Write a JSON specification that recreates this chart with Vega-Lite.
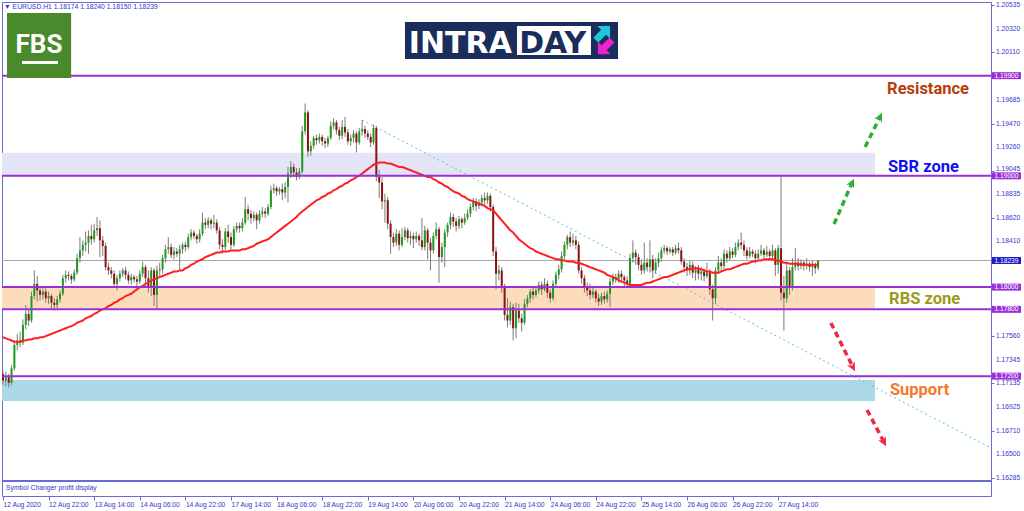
{
"$schema": "https://vega.github.io/schema/vega-lite/v6.json",
"width": 989, "height": 494,
"autosize": {"type": "none"},
"padding": {"left": 2, "top": 2, "right": 33, "bottom": 15},
"background": "white",
"config": {"view": {"stroke": "#6a6ad8", "strokeWidth": 1}},
"resolve": {"scale": {"color": "independent"}},
"datasets": {
"zones": [{"z":"SBR","a":-0.351,"b":305.96,"lo":1.19,"hi":1.19207},{"z":"RBS","a":-0.351,"b":305.96,"lo":1.178,"hi":1.18},{"z":"SUP","a":-0.351,"b":305.96,"lo":1.16977,"hi":1.17165}],
"boxes": [{"p":1.199,"lab":"1.19900","k":"lvl"},{"p":1.19,"lab":"1.19000","k":"lvl"},{"p":1.18239,"lab":"1.18239","k":"cur"},{"p":1.18,"lab":"1.18000","k":"lvl"},{"p":1.178,"lab":"1.17800","k":"lvl"},{"p":1.172,"lab":"1.17200","k":"lvl"}],
"ylabs": [{"v":1.20535},{"v":1.2032},{"v":1.2011},{"v":1.19685},{"v":1.1947},{"v":1.1926},{"v":1.18835},{"v":1.1862},{"v":1.1841},{"v":1.1756},{"v":1.17345},{"v":1.17135},{"v":1.16925},{"v":1.1671},{"v":1.165},{"v":1.16285}],
"k": [
{"i":0,"o":1.1722,"h":1.1725,"l":1.1712,"c":1.1716,"m":1.1755},
{"i":1,"o":1.1716,"h":1.1724,"l":1.1711,"c":1.1719,"m":1.1754},
{"i":2,"o":1.1719,"h":1.1722,"l":1.1710,"c":1.1714,"m":1.1753},
{"i":3,"o":1.1714,"h":1.1730,"l":1.1712,"c":1.1727,"m":1.1752},
{"i":4,"o":1.1727,"h":1.1752,"l":1.1725,"c":1.1748,"m":1.1751},
{"i":5,"o":1.1748,"h":1.1758,"l":1.1743,"c":1.1752,"m":1.1751},
{"i":6,"o":1.1752,"h":1.1760,"l":1.1746,"c":1.1750,"m":1.1751},
{"i":7,"o":1.1750,"h":1.1771,"l":1.1748,"c":1.1766,"m":1.1752},
{"i":8,"o":1.1766,"h":1.1784,"l":1.1762,"c":1.1776,"m":1.1752},
{"i":9,"o":1.1776,"h":1.1780,"l":1.1765,"c":1.1770,"m":1.1753},
{"i":10,"o":1.1770,"h":1.1796,"l":1.1768,"c":1.1792,"m":1.1753},
{"i":11,"o":1.1792,"h":1.1815,"l":1.1789,"c":1.1803,"m":1.1754},
{"i":12,"o":1.1803,"h":1.1810,"l":1.1787,"c":1.1797,"m":1.1754},
{"i":13,"o":1.1797,"h":1.1801,"l":1.1788,"c":1.1793,"m":1.1755},
{"i":14,"o":1.1793,"h":1.1799,"l":1.1789,"c":1.1796,"m":1.1755},
{"i":15,"o":1.1796,"h":1.1799,"l":1.1786,"c":1.1790,"m":1.1756},
{"i":16,"o":1.1790,"h":1.1796,"l":1.1785,"c":1.1792,"m":1.1757},
{"i":17,"o":1.1792,"h":1.1794,"l":1.1781,"c":1.1786,"m":1.1758},
{"i":18,"o":1.1786,"h":1.1790,"l":1.1779,"c":1.1784,"m":1.1759},
{"i":19,"o":1.1784,"h":1.1792,"l":1.1781,"c":1.1789,"m":1.1760},
{"i":20,"o":1.1789,"h":1.1797,"l":1.1786,"c":1.1794,"m":1.1761},
{"i":21,"o":1.1794,"h":1.1811,"l":1.1792,"c":1.1808,"m":1.1762},
{"i":22,"o":1.1808,"h":1.1815,"l":1.1804,"c":1.1811,"m":1.1763},
{"i":23,"o":1.1811,"h":1.1814,"l":1.1806,"c":1.1810,"m":1.1764},
{"i":24,"o":1.1810,"h":1.1812,"l":1.1803,"c":1.1807,"m":1.1765},
{"i":25,"o":1.1807,"h":1.1816,"l":1.1805,"c":1.1813,"m":1.1766},
{"i":26,"o":1.1813,"h":1.1830,"l":1.1811,"c":1.1826,"m":1.1768},
{"i":27,"o":1.1826,"h":1.1845,"l":1.1822,"c":1.1833,"m":1.1769},
{"i":28,"o":1.1833,"h":1.1842,"l":1.1828,"c":1.1838,"m":1.1770},
{"i":29,"o":1.1838,"h":1.1850,"l":1.1832,"c":1.1840,"m":1.1772},
{"i":30,"o":1.1840,"h":1.1851,"l":1.1830,"c":1.1846,"m":1.1773},
{"i":31,"o":1.1846,"h":1.1856,"l":1.1838,"c":1.1843,"m":1.1774},
{"i":32,"o":1.1843,"h":1.1857,"l":1.1840,"c":1.1851,"m":1.1776},
{"i":33,"o":1.1851,"h":1.1863,"l":1.1846,"c":1.1853,"m":1.1777},
{"i":34,"o":1.1853,"h":1.1860,"l":1.1827,"c":1.1842,"m":1.1779},
{"i":35,"o":1.1842,"h":1.1846,"l":1.1828,"c":1.1837,"m":1.1780},
{"i":36,"o":1.1837,"h":1.1840,"l":1.1815,"c":1.1818,"m":1.1781},
{"i":37,"o":1.1818,"h":1.1822,"l":1.1811,"c":1.1815,"m":1.1783},
{"i":38,"o":1.1815,"h":1.1818,"l":1.1808,"c":1.1812,"m":1.1784},
{"i":39,"o":1.1812,"h":1.1815,"l":1.1800,"c":1.1803,"m":1.1786},
{"i":40,"o":1.1803,"h":1.1811,"l":1.1797,"c":1.1808,"m":1.1787},
{"i":41,"o":1.1808,"h":1.1815,"l":1.1805,"c":1.1812,"m":1.1789},
{"i":42,"o":1.1812,"h":1.1817,"l":1.1809,"c":1.1815,"m":1.1790},
{"i":43,"o":1.1815,"h":1.1818,"l":1.1807,"c":1.1811,"m":1.1792},
{"i":44,"o":1.1811,"h":1.1814,"l":1.1803,"c":1.1806,"m":1.1793},
{"i":45,"o":1.1806,"h":1.1812,"l":1.1802,"c":1.1809,"m":1.1794},
{"i":46,"o":1.1809,"h":1.1811,"l":1.1804,"c":1.1807,"m":1.1796},
{"i":47,"o":1.1807,"h":1.1810,"l":1.1801,"c":1.1805,"m":1.1798},
{"i":48,"o":1.1805,"h":1.1815,"l":1.1803,"c":1.1812,"m":1.1800},
{"i":49,"o":1.1812,"h":1.1823,"l":1.1809,"c":1.1818,"m":1.1801},
{"i":50,"o":1.1818,"h":1.1820,"l":1.1800,"c":1.1808,"m":1.1803},
{"i":51,"o":1.1808,"h":1.1815,"l":1.1795,"c":1.1800,"m":1.1804},
{"i":52,"o":1.1800,"h":1.1818,"l":1.1792,"c":1.1815,"m":1.1806},
{"i":53,"o":1.1815,"h":1.1817,"l":1.1783,"c":1.1793,"m":1.1807},
{"i":54,"o":1.1793,"h":1.1819,"l":1.1781,"c":1.1815,"m":1.1808},
{"i":55,"o":1.1815,"h":1.1822,"l":1.1809,"c":1.1816,"m":1.1809},
{"i":56,"o":1.1816,"h":1.1829,"l":1.1812,"c":1.1826,"m":1.1810},
{"i":57,"o":1.1826,"h":1.1838,"l":1.1822,"c":1.1834,"m":1.1811},
{"i":58,"o":1.1834,"h":1.1845,"l":1.1830,"c":1.1836,"m":1.1812},
{"i":59,"o":1.1836,"h":1.1839,"l":1.1826,"c":1.1829,"m":1.1813},
{"i":60,"o":1.1829,"h":1.1836,"l":1.1825,"c":1.1832,"m":1.1814},
{"i":61,"o":1.1832,"h":1.1835,"l":1.1827,"c":1.1830,"m":1.1814},
{"i":62,"o":1.1830,"h":1.1838,"l":1.1815,"c":1.1834,"m":1.1815},
{"i":63,"o":1.1834,"h":1.1840,"l":1.1830,"c":1.1838,"m":1.1815},
{"i":64,"o":1.1838,"h":1.1841,"l":1.1832,"c":1.1836,"m":1.1817},
{"i":65,"o":1.1836,"h":1.1848,"l":1.1834,"c":1.1845,"m":1.1818},
{"i":66,"o":1.1845,"h":1.1852,"l":1.1842,"c":1.1849,"m":1.1820},
{"i":67,"o":1.1849,"h":1.1851,"l":1.1843,"c":1.1846,"m":1.1821},
{"i":68,"o":1.1846,"h":1.1848,"l":1.1839,"c":1.1843,"m":1.1823},
{"i":69,"o":1.1843,"h":1.1852,"l":1.1840,"c":1.1848,"m":1.1824},
{"i":70,"o":1.1848,"h":1.1867,"l":1.1846,"c":1.1858,"m":1.1825},
{"i":71,"o":1.1858,"h":1.1862,"l":1.1852,"c":1.1856,"m":1.1827},
{"i":72,"o":1.1856,"h":1.1863,"l":1.1853,"c":1.1860,"m":1.1828},
{"i":73,"o":1.1860,"h":1.1862,"l":1.1852,"c":1.1857,"m":1.1829},
{"i":74,"o":1.1857,"h":1.1865,"l":1.1853,"c":1.1858,"m":1.1830},
{"i":75,"o":1.1858,"h":1.1861,"l":1.1848,"c":1.1851,"m":1.1831},
{"i":76,"o":1.1851,"h":1.1854,"l":1.1834,"c":1.1838,"m":1.1831},
{"i":77,"o":1.1838,"h":1.1843,"l":1.1830,"c":1.1836,"m":1.1832},
{"i":78,"o":1.1836,"h":1.1853,"l":1.1833,"c":1.1850,"m":1.1832},
{"i":79,"o":1.1850,"h":1.1856,"l":1.1840,"c":1.1845,"m":1.1832},
{"i":80,"o":1.1845,"h":1.1849,"l":1.1834,"c":1.1838,"m":1.1833},
{"i":81,"o":1.1838,"h":1.1855,"l":1.1836,"c":1.1852,"m":1.1833},
{"i":82,"o":1.1852,"h":1.1858,"l":1.1849,"c":1.1855,"m":1.1833},
{"i":83,"o":1.1855,"h":1.1858,"l":1.1849,"c":1.1853,"m":1.1833},
{"i":84,"o":1.1853,"h":1.1862,"l":1.1850,"c":1.1858,"m":1.1834},
{"i":85,"o":1.1858,"h":1.1881,"l":1.1856,"c":1.1870,"m":1.1834},
{"i":86,"o":1.1870,"h":1.1874,"l":1.1860,"c":1.1866,"m":1.1835},
{"i":87,"o":1.1866,"h":1.1869,"l":1.1857,"c":1.1862,"m":1.1836},
{"i":88,"o":1.1862,"h":1.1868,"l":1.1859,"c":1.1865,"m":1.1837},
{"i":89,"o":1.1865,"h":1.1867,"l":1.1852,"c":1.1860,"m":1.1839},
{"i":90,"o":1.1860,"h":1.1869,"l":1.1857,"c":1.1866,"m":1.1840},
{"i":91,"o":1.1866,"h":1.1872,"l":1.1863,"c":1.1868,"m":1.1841},
{"i":92,"o":1.1868,"h":1.1871,"l":1.1862,"c":1.1866,"m":1.1842},
{"i":93,"o":1.1866,"h":1.1875,"l":1.1864,"c":1.1872,"m":1.1843},
{"i":94,"o":1.1872,"h":1.1891,"l":1.1870,"c":1.1887,"m":1.1845},
{"i":95,"o":1.1887,"h":1.1893,"l":1.1884,"c":1.1889,"m":1.1847},
{"i":96,"o":1.1889,"h":1.1891,"l":1.1882,"c":1.1886,"m":1.1849},
{"i":97,"o":1.1886,"h":1.1890,"l":1.1883,"c":1.1888,"m":1.1851},
{"i":98,"o":1.1888,"h":1.1893,"l":1.1878,"c":1.1885,"m":1.1853},
{"i":99,"o":1.1885,"h":1.1894,"l":1.1880,"c":1.1890,"m":1.1855},
{"i":100,"o":1.1890,"h":1.1908,"l":1.1876,"c":1.1902,"m":1.1857},
{"i":101,"o":1.1902,"h":1.1913,"l":1.1898,"c":1.1908,"m":1.1859},
{"i":102,"o":1.1908,"h":1.1911,"l":1.1899,"c":1.1903,"m":1.1861},
{"i":103,"o":1.1903,"h":1.1907,"l":1.1896,"c":1.1899,"m":1.1863},
{"i":104,"o":1.1899,"h":1.1907,"l":1.1897,"c":1.1904,"m":1.1866},
{"i":105,"o":1.1904,"h":1.1945,"l":1.1902,"c":1.1940,"m":1.1868},
{"i":106,"o":1.1940,"h":1.1965,"l":1.1937,"c":1.1957,"m":1.1870},
{"i":107,"o":1.1957,"h":1.1959,"l":1.1917,"c":1.1922,"m":1.1872},
{"i":108,"o":1.1922,"h":1.1931,"l":1.1918,"c":1.1927,"m":1.1874},
{"i":109,"o":1.1927,"h":1.1936,"l":1.1924,"c":1.1934,"m":1.1876},
{"i":110,"o":1.1934,"h":1.1937,"l":1.1928,"c":1.1932,"m":1.1878},
{"i":111,"o":1.1932,"h":1.1938,"l":1.1929,"c":1.1935,"m":1.1879},
{"i":112,"o":1.1935,"h":1.1937,"l":1.1927,"c":1.1931,"m":1.1881},
{"i":113,"o":1.1931,"h":1.1934,"l":1.1925,"c":1.1929,"m":1.1882},
{"i":114,"o":1.1929,"h":1.1936,"l":1.1926,"c":1.1934,"m":1.1884},
{"i":115,"o":1.1934,"h":1.1949,"l":1.1932,"c":1.1945,"m":1.1885},
{"i":116,"o":1.1945,"h":1.1952,"l":1.1942,"c":1.1948,"m":1.1887},
{"i":117,"o":1.1948,"h":1.1950,"l":1.1937,"c":1.1941,"m":1.1888},
{"i":118,"o":1.1941,"h":1.1944,"l":1.1932,"c":1.1936,"m":1.1890},
{"i":119,"o":1.1936,"h":1.1950,"l":1.1933,"c":1.1944,"m":1.1891},
{"i":120,"o":1.1944,"h":1.1953,"l":1.1935,"c":1.1939,"m":1.1893},
{"i":121,"o":1.1939,"h":1.1942,"l":1.1928,"c":1.1931,"m":1.1894},
{"i":122,"o":1.1931,"h":1.1937,"l":1.1927,"c":1.1934,"m":1.1896},
{"i":123,"o":1.1934,"h":1.1941,"l":1.1930,"c":1.1938,"m":1.1897},
{"i":124,"o":1.1938,"h":1.1940,"l":1.1921,"c":1.1930,"m":1.1899},
{"i":125,"o":1.1930,"h":1.1943,"l":1.1928,"c":1.1940,"m":1.1900},
{"i":126,"o":1.1940,"h":1.1950,"l":1.1936,"c":1.1942,"m":1.1902},
{"i":127,"o":1.1942,"h":1.1945,"l":1.1934,"c":1.1938,"m":1.1904},
{"i":128,"o":1.1938,"h":1.1941,"l":1.1932,"c":1.1935,"m":1.1906},
{"i":129,"o":1.1935,"h":1.1938,"l":1.1926,"c":1.1930,"m":1.1908},
{"i":130,"o":1.1930,"h":1.1946,"l":1.1928,"c":1.1943,"m":1.1910},
{"i":131,"o":1.1943,"h":1.1945,"l":1.1895,"c":1.1899,"m":1.1911},
{"i":132,"o":1.1899,"h":1.1905,"l":1.1880,"c":1.1894,"m":1.1912},
{"i":133,"o":1.1894,"h":1.1899,"l":1.1870,"c":1.1877,"m":1.1912},
{"i":134,"o":1.1877,"h":1.1884,"l":1.1858,"c":1.1878,"m":1.1912},
{"i":135,"o":1.1878,"h":1.1881,"l":1.1852,"c":1.1857,"m":1.1911},
{"i":136,"o":1.1857,"h":1.1860,"l":1.1830,"c":1.1845,"m":1.1911},
{"i":137,"o":1.1845,"h":1.1849,"l":1.1836,"c":1.1840,"m":1.1910},
{"i":138,"o":1.1840,"h":1.1852,"l":1.1837,"c":1.1848,"m":1.1909},
{"i":139,"o":1.1848,"h":1.1851,"l":1.1833,"c":1.1838,"m":1.1908},
{"i":140,"o":1.1838,"h":1.1853,"l":1.1836,"c":1.1845,"m":1.1908},
{"i":141,"o":1.1845,"h":1.1854,"l":1.1842,"c":1.1851,"m":1.1907},
{"i":142,"o":1.1851,"h":1.1853,"l":1.1840,"c":1.1844,"m":1.1906},
{"i":143,"o":1.1844,"h":1.1850,"l":1.1838,"c":1.1846,"m":1.1905},
{"i":144,"o":1.1846,"h":1.1849,"l":1.1835,"c":1.1843,"m":1.1904},
{"i":145,"o":1.1843,"h":1.1850,"l":1.1840,"c":1.1846,"m":1.1903},
{"i":146,"o":1.1846,"h":1.1848,"l":1.1837,"c":1.1842,"m":1.1902},
{"i":147,"o":1.1842,"h":1.1862,"l":1.1833,"c":1.1836,"m":1.1901},
{"i":148,"o":1.1836,"h":1.1855,"l":1.1833,"c":1.1851,"m":1.1900},
{"i":149,"o":1.1851,"h":1.1853,"l":1.1825,"c":1.1840,"m":1.1899},
{"i":150,"o":1.1840,"h":1.1844,"l":1.1815,"c":1.1833,"m":1.1899},
{"i":151,"o":1.1833,"h":1.1849,"l":1.1830,"c":1.1846,"m":1.1897},
{"i":152,"o":1.1846,"h":1.1858,"l":1.1843,"c":1.1852,"m":1.1896},
{"i":153,"o":1.1852,"h":1.1854,"l":1.1804,"c":1.1827,"m":1.1894},
{"i":154,"o":1.1827,"h":1.1840,"l":1.1822,"c":1.1836,"m":1.1893},
{"i":155,"o":1.1836,"h":1.1852,"l":1.1818,"c":1.1849,"m":1.1891},
{"i":156,"o":1.1849,"h":1.1858,"l":1.1845,"c":1.1856,"m":1.1890},
{"i":157,"o":1.1856,"h":1.1867,"l":1.1852,"c":1.1863,"m":1.1888},
{"i":158,"o":1.1863,"h":1.1866,"l":1.1854,"c":1.1859,"m":1.1886},
{"i":159,"o":1.1859,"h":1.1862,"l":1.1850,"c":1.1855,"m":1.1885},
{"i":160,"o":1.1855,"h":1.1864,"l":1.1852,"c":1.1861,"m":1.1884},
{"i":161,"o":1.1861,"h":1.1863,"l":1.1853,"c":1.1858,"m":1.1882},
{"i":162,"o":1.1858,"h":1.1866,"l":1.1856,"c":1.1862,"m":1.1881},
{"i":163,"o":1.1862,"h":1.1870,"l":1.1860,"c":1.1866,"m":1.1879},
{"i":164,"o":1.1866,"h":1.1875,"l":1.1863,"c":1.1872,"m":1.1878},
{"i":165,"o":1.1872,"h":1.1880,"l":1.1869,"c":1.1877,"m":1.1877},
{"i":166,"o":1.1877,"h":1.1880,"l":1.1868,"c":1.1873,"m":1.1876},
{"i":167,"o":1.1873,"h":1.1879,"l":1.1870,"c":1.1876,"m":1.1875},
{"i":168,"o":1.1876,"h":1.1883,"l":1.1873,"c":1.1880,"m":1.1874},
{"i":169,"o":1.1880,"h":1.1885,"l":1.1874,"c":1.1878,"m":1.1873},
{"i":170,"o":1.1878,"h":1.1885,"l":1.1875,"c":1.1882,"m":1.1871},
{"i":171,"o":1.1882,"h":1.1884,"l":1.1868,"c":1.1872,"m":1.1870},
{"i":172,"o":1.1872,"h":1.1874,"l":1.1828,"c":1.1832,"m":1.1869},
{"i":173,"o":1.1832,"h":1.1836,"l":1.1798,"c":1.1812,"m":1.1866},
{"i":174,"o":1.1812,"h":1.1820,"l":1.1806,"c":1.1815,"m":1.1863},
{"i":175,"o":1.1815,"h":1.1818,"l":1.1795,"c":1.1800,"m":1.1860},
{"i":176,"o":1.1800,"h":1.1803,"l":1.1770,"c":1.1775,"m":1.1857},
{"i":177,"o":1.1775,"h":1.1790,"l":1.1764,"c":1.1770,"m":1.1854},
{"i":178,"o":1.1770,"h":1.1787,"l":1.1766,"c":1.1782,"m":1.1851},
{"i":179,"o":1.1782,"h":1.1785,"l":1.1752,"c":1.1763,"m":1.1849},
{"i":180,"o":1.1763,"h":1.1786,"l":1.1754,"c":1.1779,"m":1.1846},
{"i":181,"o":1.1779,"h":1.1785,"l":1.1768,"c":1.1772,"m":1.1843},
{"i":182,"o":1.1772,"h":1.1776,"l":1.1760,"c":1.1768,"m":1.1841},
{"i":183,"o":1.1768,"h":1.1789,"l":1.1766,"c":1.1785,"m":1.1839},
{"i":184,"o":1.1785,"h":1.1793,"l":1.1782,"c":1.1790,"m":1.1837},
{"i":185,"o":1.1790,"h":1.1798,"l":1.1786,"c":1.1796,"m":1.1835},
{"i":186,"o":1.1796,"h":1.1800,"l":1.1789,"c":1.1793,"m":1.1834},
{"i":187,"o":1.1793,"h":1.1801,"l":1.1791,"c":1.1797,"m":1.1832},
{"i":188,"o":1.1797,"h":1.1805,"l":1.1794,"c":1.1802,"m":1.1831},
{"i":189,"o":1.1802,"h":1.1805,"l":1.1793,"c":1.1798,"m":1.1830},
{"i":190,"o":1.1798,"h":1.1808,"l":1.1796,"c":1.1803,"m":1.1829},
{"i":191,"o":1.1803,"h":1.1806,"l":1.1790,"c":1.1795,"m":1.1828},
{"i":192,"o":1.1795,"h":1.1798,"l":1.1786,"c":1.1790,"m":1.1827},
{"i":193,"o":1.1790,"h":1.1806,"l":1.1788,"c":1.1803,"m":1.1826},
{"i":194,"o":1.1803,"h":1.1814,"l":1.1800,"c":1.1811,"m":1.1825},
{"i":195,"o":1.1811,"h":1.1820,"l":1.1807,"c":1.1816,"m":1.1825},
{"i":196,"o":1.1816,"h":1.1832,"l":1.1813,"c":1.1828,"m":1.1824},
{"i":197,"o":1.1828,"h":1.1841,"l":1.1825,"c":1.1838,"m":1.1824},
{"i":198,"o":1.1838,"h":1.1847,"l":1.1834,"c":1.1845,"m":1.1823},
{"i":199,"o":1.1845,"h":1.1850,"l":1.1836,"c":1.1840,"m":1.1823},
{"i":200,"o":1.1840,"h":1.1848,"l":1.1837,"c":1.1842,"m":1.1823},
{"i":201,"o":1.1842,"h":1.1846,"l":1.1834,"c":1.1838,"m":1.1822},
{"i":202,"o":1.1838,"h":1.1841,"l":1.1812,"c":1.1815,"m":1.1822},
{"i":203,"o":1.1815,"h":1.1818,"l":1.1803,"c":1.1808,"m":1.1821},
{"i":204,"o":1.1808,"h":1.1811,"l":1.1795,"c":1.1800,"m":1.1820},
{"i":205,"o":1.1800,"h":1.1804,"l":1.1792,"c":1.1797,"m":1.1819},
{"i":206,"o":1.1797,"h":1.1803,"l":1.1789,"c":1.1793,"m":1.1818},
{"i":207,"o":1.1793,"h":1.1800,"l":1.1790,"c":1.1796,"m":1.1817},
{"i":208,"o":1.1796,"h":1.1798,"l":1.1786,"c":1.1790,"m":1.1816},
{"i":209,"o":1.1790,"h":1.1794,"l":1.1783,"c":1.1787,"m":1.1815},
{"i":210,"o":1.1787,"h":1.1795,"l":1.1784,"c":1.1792,"m":1.1814},
{"i":211,"o":1.1792,"h":1.1796,"l":1.1785,"c":1.1789,"m":1.1813},
{"i":212,"o":1.1789,"h":1.1797,"l":1.1786,"c":1.1794,"m":1.1811},
{"i":213,"o":1.1794,"h":1.1808,"l":1.1782,"c":1.1805,"m":1.1810},
{"i":214,"o":1.1805,"h":1.1812,"l":1.1802,"c":1.1809,"m":1.1809},
{"i":215,"o":1.1809,"h":1.1812,"l":1.1804,"c":1.1807,"m":1.1808},
{"i":216,"o":1.1807,"h":1.1815,"l":1.1804,"c":1.1812,"m":1.1806},
{"i":217,"o":1.1812,"h":1.1815,"l":1.1806,"c":1.1809,"m":1.1805},
{"i":218,"o":1.1809,"h":1.1811,"l":1.1800,"c":1.1806,"m":1.1804},
{"i":219,"o":1.1806,"h":1.1810,"l":1.1799,"c":1.1803,"m":1.1803},
{"i":220,"o":1.1803,"h":1.1830,"l":1.1800,"c":1.1826,"m":1.1802},
{"i":221,"o":1.1826,"h":1.1842,"l":1.1822,"c":1.1831,"m":1.1802},
{"i":222,"o":1.1831,"h":1.1834,"l":1.1820,"c":1.1827,"m":1.1802},
{"i":223,"o":1.1827,"h":1.1830,"l":1.1815,"c":1.1820,"m":1.1802},
{"i":224,"o":1.1820,"h":1.1825,"l":1.1811,"c":1.1815,"m":1.1802},
{"i":225,"o":1.1815,"h":1.1840,"l":1.1812,"c":1.1822,"m":1.1803},
{"i":226,"o":1.1822,"h":1.1826,"l":1.1814,"c":1.1818,"m":1.1804},
{"i":227,"o":1.1818,"h":1.1842,"l":1.1813,"c":1.1825,"m":1.1804},
{"i":228,"o":1.1825,"h":1.1829,"l":1.1808,"c":1.1815,"m":1.1805},
{"i":229,"o":1.1815,"h":1.1826,"l":1.1812,"c":1.1822,"m":1.1806},
{"i":230,"o":1.1822,"h":1.1831,"l":1.1818,"c":1.1826,"m":1.1807},
{"i":231,"o":1.1826,"h":1.1836,"l":1.1823,"c":1.1833,"m":1.1808},
{"i":232,"o":1.1833,"h":1.1838,"l":1.1830,"c":1.1835,"m":1.1809},
{"i":233,"o":1.1835,"h":1.1837,"l":1.1829,"c":1.1832,"m":1.1809},
{"i":234,"o":1.1832,"h":1.1836,"l":1.1830,"c":1.1834,"m":1.1810},
{"i":235,"o":1.1834,"h":1.1836,"l":1.1828,"c":1.1831,"m":1.1811},
{"i":236,"o":1.1831,"h":1.1838,"l":1.1829,"c":1.1835,"m":1.1812},
{"i":237,"o":1.1835,"h":1.1840,"l":1.1830,"c":1.1833,"m":1.1813},
{"i":238,"o":1.1833,"h":1.1836,"l":1.1820,"c":1.1823,"m":1.1814},
{"i":239,"o":1.1823,"h":1.1826,"l":1.1813,"c":1.1818,"m":1.1815},
{"i":240,"o":1.1818,"h":1.1822,"l":1.1810,"c":1.1815,"m":1.1816},
{"i":241,"o":1.1815,"h":1.1824,"l":1.1811,"c":1.1820,"m":1.1816},
{"i":242,"o":1.1820,"h":1.1823,"l":1.1808,"c":1.1813,"m":1.1817},
{"i":243,"o":1.1813,"h":1.1819,"l":1.1806,"c":1.1816,"m":1.1817},
{"i":244,"o":1.1816,"h":1.1820,"l":1.1807,"c":1.1812,"m":1.1817},
{"i":245,"o":1.1812,"h":1.1818,"l":1.1806,"c":1.1814,"m":1.1816},
{"i":246,"o":1.1814,"h":1.1817,"l":1.1805,"c":1.1810,"m":1.1815},
{"i":247,"o":1.1810,"h":1.1822,"l":1.1808,"c":1.1813,"m":1.1814},
{"i":248,"o":1.1813,"h":1.1816,"l":1.1793,"c":1.1798,"m":1.1814},
{"i":249,"o":1.1798,"h":1.1802,"l":1.1770,"c":1.1790,"m":1.1813},
{"i":250,"o":1.1790,"h":1.1818,"l":1.1785,"c":1.1815,"m":1.1813},
{"i":251,"o":1.1815,"h":1.1828,"l":1.1812,"c":1.1822,"m":1.1813},
{"i":252,"o":1.1822,"h":1.1826,"l":1.1815,"c":1.1819,"m":1.1814},
{"i":253,"o":1.1819,"h":1.1834,"l":1.1816,"c":1.1830,"m":1.1815},
{"i":254,"o":1.1830,"h":1.1833,"l":1.1822,"c":1.1826,"m":1.1816},
{"i":255,"o":1.1826,"h":1.1836,"l":1.1824,"c":1.1832,"m":1.1816},
{"i":256,"o":1.1832,"h":1.1835,"l":1.1826,"c":1.1829,"m":1.1817},
{"i":257,"o":1.1829,"h":1.1840,"l":1.1827,"c":1.1836,"m":1.1818},
{"i":258,"o":1.1836,"h":1.1843,"l":1.1833,"c":1.1840,"m":1.1819},
{"i":259,"o":1.1840,"h":1.1849,"l":1.1834,"c":1.1838,"m":1.1820},
{"i":260,"o":1.1838,"h":1.1842,"l":1.1828,"c":1.1833,"m":1.1821},
{"i":261,"o":1.1833,"h":1.1836,"l":1.1825,"c":1.1828,"m":1.1821},
{"i":262,"o":1.1828,"h":1.1836,"l":1.1826,"c":1.1832,"m":1.1822},
{"i":263,"o":1.1832,"h":1.1834,"l":1.1827,"c":1.1830,"m":1.1823},
{"i":264,"o":1.1830,"h":1.1833,"l":1.1822,"c":1.1826,"m":1.1823},
{"i":265,"o":1.1826,"h":1.1834,"l":1.1824,"c":1.1830,"m":1.1824},
{"i":266,"o":1.1830,"h":1.1838,"l":1.1828,"c":1.1833,"m":1.1824},
{"i":267,"o":1.1833,"h":1.1835,"l":1.1826,"c":1.1829,"m":1.1825},
{"i":268,"o":1.1829,"h":1.1837,"l":1.1827,"c":1.1832,"m":1.1825},
{"i":269,"o":1.1832,"h":1.1834,"l":1.1824,"c":1.1828,"m":1.1825},
{"i":270,"o":1.1828,"h":1.1838,"l":1.1825,"c":1.1833,"m":1.1825},
{"i":271,"o":1.1833,"h":1.1835,"l":1.1810,"c":1.1820,"m":1.1824},
{"i":272,"o":1.1820,"h":1.1838,"l":1.1812,"c":1.1835,"m":1.1824},
{"i":273,"o":1.1835,"h":1.1901,"l":1.1788,"c":1.1795,"m":1.1823},
{"i":274,"o":1.1795,"h":1.1810,"l":1.1761,"c":1.1790,"m":1.1822},
{"i":275,"o":1.1790,"h":1.1822,"l":1.1786,"c":1.1815,"m":1.1822},
{"i":276,"o":1.1815,"h":1.1818,"l":1.1793,"c":1.1800,"m":1.1821},
{"i":277,"o":1.1800,"h":1.1826,"l":1.1797,"c":1.1818,"m":1.1821},
{"i":278,"o":1.1818,"h":1.1835,"l":1.1815,"c":1.1822,"m":1.1821},
{"i":279,"o":1.1822,"h":1.1826,"l":1.1815,"c":1.1819,"m":1.1821},
{"i":280,"o":1.1819,"h":1.1825,"l":1.1816,"c":1.1822,"m":1.1820},
{"i":281,"o":1.1822,"h":1.1824,"l":1.1815,"c":1.1819,"m":1.1820},
{"i":282,"o":1.1819,"h":1.1826,"l":1.1816,"c":1.1821,"m":1.1820},
{"i":283,"o":1.1821,"h":1.1823,"l":1.1814,"c":1.1818,"m":1.1820},
{"i":284,"o":1.1818,"h":1.1824,"l":1.1810,"c":1.1820,"m":1.1820},
{"i":285,"o":1.1820,"h":1.1822,"l":1.1812,"c":1.1817,"m":1.1820},
{"i":286,"o":1.18174,"h":1.1824,"l":1.1815,"c":1.18239,"m":1.1820}
]
},
"layer": [
{"data": {"name": "zones"}, "mark": {"type": "rect"},
 "encoding": {
  "x": {"field": "a", "type": "quantitative", "scale": {"domain": [-0.351, 346.67], "nice": false, "zero": false, "padding": 0},
        "axis": {"orient": "bottom", "title": null, "values": [0,16,32,48,64,80,96,112,128,144,160,176,192,208,224,240,256,272],
                 "labelExpr": "['12 Aug 2020','12 Aug 22:00','13 Aug 14:00','14 Aug 06:00','14 Aug 22:00','17 Aug 14:00','18 Aug 06:00','18 Aug 22:00','19 Aug 14:00','20 Aug 06:00','20 Aug 22:00','21 Aug 14:00','24 Aug 06:00','24 Aug 22:00','25 Aug 14:00','26 Aug 06:00','26 Aug 22:00','27 Aug 14:00'][round(datum.value/16)]",
                 "labelAlign": "left", "labelBaseline": "top", "labelPadding": 1, "tickSize": 4, "domain": false, "grid": false,
                 "labelFlush": false, "labelOverlap": false, "labelBound": false,
                 "labelFont": "Liberation Sans", "labelFontSize": 6.7, "labelColor": "#3434c8", "tickColor": "#6a6ad8"}},
  "x2": {"field": "b"},
  "y": {"field": "lo", "type": "quantitative", "scale": {"domain": [1.16123, 1.20562], "nice": false, "zero": false, "padding": 0},
        "axis": {"orient": "right", "title": null, "values": [1.20535,1.2032,1.2011,1.19685,1.1947,1.1926,1.19045,1.18835,1.1862,1.1841,1.1756,1.17345,1.17135,1.16925,1.1671,1.165,1.16285],
                 "labels": false, "tickSize": 3, "domain": false, "grid": false, "tickColor": "#6a6ad8"}},
  "y2": {"field": "hi"},
  "color": {"field": "z", "type": "nominal", "scale": {"domain": ["SBR","RBS","SUP"], "range": ["#e4e4f7","#fddcbb","#add8e6"]}, "legend": null}
 }},
{"data": {"values": [{"i": 126, "p": 1.19502}, {"i": 346.67, "p": 1.16555}]},
 "mark": {"type": "line", "color": "#5cc6c6", "strokeWidth": 1, "strokeDash": [2, 3]},
 "encoding": {"x": {"field": "i", "type": "quantitative", "title": null}, "y": {"field": "p", "type": "quantitative", "title": null}}},
{"data": {"values": [{"p": 1.18239}]},
 "mark": {"type": "rule", "color": "#a8a8a8", "strokeWidth": 1},
 "encoding": {"y": {"field": "p", "type": "quantitative", "title": null}}},
{"data": {"name": "k"}, "mark": {"type": "rule", "color": "#7c7c7c", "strokeWidth": 1},
 "encoding": {"x": {"field": "i", "type": "quantitative", "title": null}, "y": {"field": "l", "type": "quantitative", "title": null}, "y2": {"field": "h"}}},
{"data": {"name": "k"}, "mark": {"type": "bar", "width": 2},
 "encoding": {"x": {"field": "i", "type": "quantitative", "title": null}, "y": {"field": "o", "type": "quantitative", "title": null}, "y2": {"field": "c"},
  "color": {"condition": {"test": "datum.c >= datum.o", "value": "#1f9a1f"}, "value": "#8b1212"}}},
{"data": {"name": "k"}, "mark": {"type": "line", "color": "#ff1f1f", "strokeWidth": 2},
 "encoding": {"x": {"field": "i", "type": "quantitative", "title": null}, "y": {"field": "m", "type": "quantitative", "title": null}}},
{"data": {"values": [{"p": 1.199}, {"p": 1.19}, {"p": 1.18}, {"p": 1.178}, {"p": 1.172}]},
 "mark": {"type": "rule", "color": "#9b30d6", "strokeWidth": 2},
 "encoding": {"y": {"field": "p", "type": "quantitative", "title": null}}},
{"data": {"values": [{"p": 1.16258}]},
 "mark": {"type": "rule", "color": "#6a6ad8", "strokeWidth": 2},
 "encoding": {"y": {"field": "p", "type": "quantitative", "title": null}}},
{"data": {"name": "ylabs"}, "mark": {"type": "text", "font": "Liberation Sans", "fontSize": 6.7, "color": "#3434c8", "align": "left", "baseline": "middle"},
 "encoding": {"x": {"datum": 348.4, "type": "quantitative"}, "y": {"field": "v", "type": "quantitative", "title": null}, "text": {"field": "v", "format": ".5f"}}},
{"data": {"values": [{"v": 1.19045}]}, "mark": {"type": "text", "font": "Liberation Sans", "fontSize": 6.7, "color": "#3434c8", "align": "left", "baseline": "bottom", "dy": 1},
 "encoding": {"x": {"datum": 348.4, "type": "quantitative"}, "y": {"field": "v", "type": "quantitative", "title": null}, "text": {"field": "v", "format": ".5f"}}},
{"data": {"name": "boxes"}, "mark": {"type": "tick", "orient": "horizontal", "size": 29, "thickness": 7, "opacity": 1},
 "encoding": {"x": {"datum": 352.1, "type": "quantitative"}, "y": {"field": "p", "type": "quantitative", "title": null},
  "color": {"field": "k", "type": "nominal", "scale": {"domain": ["lvl","cur"], "range": ["#9b30d6","#1c1cc8"]}, "legend": null}}},
{"data": {"name": "boxes"}, "mark": {"type": "text", "color": "white", "font": "Liberation Sans", "fontSize": 6.7, "align": "center", "baseline": "middle"},
 "encoding": {"x": {"datum": 352.1, "type": "quantitative"}, "y": {"field": "p", "type": "quantitative", "title": null}, "text": {"field": "lab"}}},
{"data": {"values": [{"t": "Resistance", "i": 310.2, "p": 1.1978}, {"t": "SBR zone", "i": 310.5, "p": 1.19079}, {"t": "RBS zone", "i": 310.9, "p": 1.17893}, {"t": "Support", "i": 311.2, "p": 1.17076}]},
 "mark": {"type": "text", "font": "Roboto", "fontWeight": "bold", "fontSize": 16.5, "align": "left", "baseline": "middle"},
 "encoding": {"x": {"field": "i", "type": "quantitative", "title": null}, "y": {"field": "p", "type": "quantitative", "title": null}, "text": {"field": "t"},
  "color": {"field": "t", "type": "nominal", "scale": {"domain": ["Resistance","SBR zone","RBS zone","Support"], "range": ["#b83c0c","#1010f0","#9c9a17","#f5782d"]}, "legend": null}}},
{"data": {"values": [{"id": "g1", "i": 291.6, "p": 1.18567}, {"id": "g1", "i": 297.9, "p": 1.18936}, {"id": "g2", "i": 302.5, "p": 1.19259}, {"id": "g2", "i": 307.7, "p": 1.19529}]},
 "mark": {"type": "line", "color": "#2fb02f", "strokeWidth": 3.5, "strokeDash": [6, 4]},
 "encoding": {"x": {"field": "i", "type": "quantitative", "title": null}, "y": {"field": "p", "type": "quantitative", "title": null}, "detail": {"field": "id"}}},
{"data": {"values": [{"id": "r1", "i": 290.5, "p": 1.17678}, {"id": "r1", "i": 298.2, "p": 1.17282}, {"id": "r2", "i": 303.2, "p": 1.16896}, {"id": "r2", "i": 309.1, "p": 1.16608}]},
 "mark": {"type": "line", "color": "#f02840", "strokeWidth": 3.5, "strokeDash": [6, 4]},
 "encoding": {"x": {"field": "i", "type": "quantitative", "title": null}, "y": {"field": "p", "type": "quantitative", "title": null}, "detail": {"field": "id"}}},
{"data": {"values": [{"i": 297.9, "p": 1.18936}, {"i": 307.7, "p": 1.19529}]},
 "mark": {"type": "point", "shape": "M0,-1L0.9,0.9L0,0.35L-0.9,0.9Z", "filled": true, "color": "#2fb02f", "size": 90, "angle": 25, "opacity": 1},
 "encoding": {"x": {"field": "i", "type": "quantitative", "title": null}, "y": {"field": "p", "type": "quantitative", "title": null}}},
{"data": {"values": [{"i": 298.2, "p": 1.17282}, {"i": 309.1, "p": 1.16608}]},
 "mark": {"type": "point", "shape": "M0,-1L0.9,0.9L0,0.35L-0.9,0.9Z", "filled": true, "color": "#f02840", "size": 90, "angle": 153, "opacity": 1},
 "encoding": {"x": {"field": "i", "type": "quantitative", "title": null}, "y": {"field": "p", "type": "quantitative", "title": null}}},
{"data": {"values": [{"t": "▼ EURUSD.H1  1.18174 1.18240 1.18150 1.18239", "i": 0.35, "p": 1.20517}, {"t": "Symbol Changer profit display", "i": 1.05, "p": 1.16195}]},
 "mark": {"type": "text", "font": "Liberation Sans", "fontSize": 6.8, "color": "#3434c8", "align": "left", "baseline": "middle"},
 "encoding": {"x": {"field": "i", "type": "quantitative", "title": null}, "y": {"field": "p", "type": "quantitative", "title": null}, "text": {"field": "t"}}},
{"data": {"values": [{"k": "fbs", "a": 1.4, "b": 23.9, "lo": 1.19879, "hi": 1.20463}, {"k": "bar", "a": 6.67, "b": 19.3, "lo": 1.20005, "hi": 1.20032}, {"k": "navy", "a": 141.05, "b": 215.8, "lo": 1.2005, "hi": 1.20382}, {"k": "white", "a": 180.35, "b": 206.3, "lo": 1.20086, "hi": 1.20346}]},
 "mark": {"type": "rect"},
 "encoding": {"x": {"field": "a", "type": "quantitative", "title": null}, "x2": {"field": "b"}, "y": {"field": "lo", "type": "quantitative", "title": null}, "y2": {"field": "hi"},
  "color": {"field": "k", "type": "nominal", "scale": {"domain": ["fbs","bar","navy","white"], "range": ["#4a8a2c","#ffffff","#1b2d5c","#ffffff"]}, "legend": null}}},
{"data": {"values": [{"t": "FBS", "i": 12.63, "p": 1.20104}]},
 "mark": {"type": "text", "font": "Liberation Sans Narrow, Roboto", "fontWeight": "bold", "fontSize": 26, "color": "white", "align": "center", "baseline": "alphabetic"},
 "encoding": {"x": {"field": "i", "type": "quantitative", "title": null}, "y": {"field": "p", "type": "quantitative", "title": null}, "text": {"field": "t"}}},
{"data": {"values": [{"t": "INTRA", "i": 142.4, "p": 1.20104}, {"t": "DAY", "i": 181.1, "p": 1.20104}]},
 "mark": {"type": "text", "font": "DejaVu Sans", "fontWeight": "bold", "fontSize": 30, "align": "left", "baseline": "alphabetic"},
 "encoding": {"x": {"field": "i", "type": "quantitative", "title": null}, "y": {"field": "p", "type": "quantitative", "title": null}, "text": {"field": "t"},
  "color": {"field": "t", "type": "nominal", "scale": {"domain": ["INTRA","DAY"], "range": ["#ffffff","#1b2d5c"]}, "legend": null}}},
{"data": {"values": [{"i": 210.5, "p": 1.20283}]},
 "mark": {"type": "point", "shape": "M-1,-0.35L0.1,-0.35L0.1,-0.9L1,0L0.1,0.9L0.1,0.35L-1,0.35Z", "filled": true, "color": "#1ec8d8", "size": 400, "angle": -45, "opacity": 1},
 "encoding": {"x": {"field": "i", "type": "quantitative", "title": null}, "y": {"field": "p", "type": "quantitative", "title": null}}},
{"data": {"values": [{"i": 211.2, "p": 1.20157}]},
 "mark": {"type": "point", "shape": "M-1,-0.35L0.1,-0.35L0.1,-0.9L1,0L0.1,0.9L0.1,0.35L-1,0.35Z", "filled": true, "color": "#ee22cc", "size": 400, "angle": 135, "opacity": 1},
 "encoding": {"x": {"field": "i", "type": "quantitative", "title": null}, "y": {"field": "p", "type": "quantitative", "title": null}}}
]
}
